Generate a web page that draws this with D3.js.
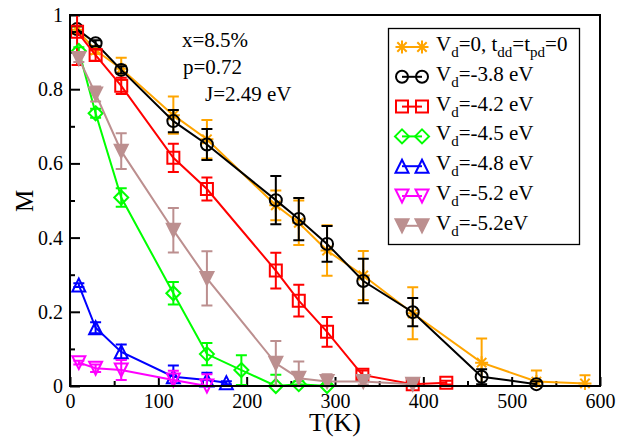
<!DOCTYPE html>
<html>
<head>
<meta charset="utf-8">
<script src="https://cdn.jsdelivr.net/npm/d3@7"></script>
<style>
  body { margin: 0; background: #fff; }
  svg, svg text { font-family: 'Liberation Serif', 'Times New Roman', Times, serif !important; }
</style>
</head>
<body>
<div id="chart"></div>
<script>
// T(K), M and error bar half-widths
var tOrange = [8, 29, 58, 117, 155, 233, 259, 291, 332, 388, 466, 528, 583]
var mOrange = [0.96, 0.905, 0.855, 0.73, 0.665, 0.487, 0.44, 0.365, 0.298, 0.196, 0.063, 0.012, 0.007]
var eOrange = [0.01, 0.01, 0.03, 0.05, 0.052, 0.04, 0.06, 0.068, 0.066, 0.07, 0.065, 0.03, 0.022]

var tBlack = [8, 29, 58, 117, 155, 233, 259, 291, 332, 388, 466, 528]
var mBlack = [0.962, 0.924, 0.852, 0.714, 0.651, 0.501, 0.45, 0.383, 0.283, 0.199, 0.025, 0.005]
var eBlack = [0.008, 0.008, 0.01, 0.03, 0.042, 0.065, 0.057, 0.048, 0.06, 0.038, 0.02, 0.008]

var tRed = [8, 29, 58, 117, 155, 233, 259, 291, 331, 388, 426]
var mRed = [0.955, 0.892, 0.809, 0.615, 0.531, 0.311, 0.23, 0.146, 0.03, 0.005, 0.009]
var eRed = [0.09, 0.015, 0.022, 0.038, 0.031, 0.048, 0.043, 0.04, 0.012, 0.005, 0.005]

var tGreen = [10, 29, 58, 117, 155, 194, 233, 259, 291]
var mGreen = [0.903, 0.735, 0.508, 0.25, 0.086, 0.043, 0, 0.005, 0]
var eGreen = [0.01, 0.012, 0.025, 0.03, 0.03, 0.04, 0.03, 0.008, 0.005]

var tBlue = [10, 29, 58, 117, 155, 177]
var mBlue = [0.272, 0.157, 0.092, 0.025, 0.016, 0.009]
var eBlue = [0.005, 0.015, 0.02, 0.03, 0.02, 0.004]

var tMagenta = [10, 29, 58, 117, 155]
var mMagenta = [0.063, 0.048, 0.043, 0.016, 0]
var eMagenta = [0.005, 0.01, 0.027, 0.025, 0.032]

var tBrown = [10, 29, 58, 117, 155, 233, 259, 291, 332, 388]
var mBrown = [0.883, 0.787, 0.633, 0.42, 0.29, 0.061, 0.021, 0.012, 0.012, 0.005]
var eBrown = [0.01, 0.02, 0.048, 0.06, 0.073, 0.06, 0.045, 0.02, 0.008, 0.005]

var xTicks = [0, 100, 200, 300, 400, 500, 600]
var xMinor = [50, 150, 250, 350, 450, 550]
var yTicks = [0, 0.2, 0.4, 0.6, 0.8, 1]
var yMinor = [0.1, 0.3, 0.5, 0.7, 0.9]
var notes = ['x=8.5%', 'p=0.72', 'J=2.49 eV']

var FONT = "'Liberation Serif', 'Times New Roman', Times, serif"

function zip (t, m, e) {
  return t.map(function (d, i) { return { t: d, m: m[i], e: e[i] } })
}

// legend text as [text, isSubscript] pieces
var series = [
  { color: '#ffa500', marker: 'star', data: zip(tOrange, mOrange, eOrange),
    label: [['V', 0], ['d', 1], ['=0, t', 0], ['dd', 1], ['=t', 0], ['pd', 1], ['=0', 0]] },
  { color: '#000000', marker: 'circle', data: zip(tBlack, mBlack, eBlack),
    label: [['V', 0], ['d', 1], ['=-3.8 eV', 0]] },
  { color: '#ff0000', marker: 'square', data: zip(tRed, mRed, eRed),
    label: [['V', 0], ['d', 1], ['=-4.2 eV', 0]] },
  { color: '#00ff00', marker: 'diamond', data: zip(tGreen, mGreen, eGreen),
    label: [['V', 0], ['d', 1], ['=-4.5 eV', 0]] },
  { color: '#0000ff', marker: 'triUp', data: zip(tBlue, mBlue, eBlue),
    label: [['V', 0], ['d', 1], ['=-4.8 eV', 0]] },
  { color: '#ff00ff', marker: 'triDown', data: zip(tMagenta, mMagenta, eMagenta),
    label: [['V', 0], ['d', 1], ['=-5.2 eV', 0]] },
  { color: '#bc8f8f', marker: 'triDown', fill: true, data: zip(tBrown, mBrown, eBrown),
    label: [['V', 0], ['d', 1], ['=-5.2eV', 0]] }
]

var width = 628, height = 439
var margin = { top: 15, right: 28, bottom: 53, left: 70 }

var svg = d3.select('#chart').append('svg')
  .attr('width', width)
  .attr('height', height)
  .attr('font-family', FONT)

var x = d3.scaleLinear().domain([0, 600]).range([margin.left, width - margin.right])
var y = d3.scaleLinear().domain([0, 1]).range([height - margin.bottom, margin.top])

svg.append('clipPath').attr('id', 'plot-clip')
  .append('rect')
  .attr('x', x(0)).attr('y', y(1))
  .attr('width', x(600) - x(0)).attr('height', y(0) - y(1))

function markerPath (type, s) {
  var k = 0.72 * s
  switch (type) {
    case 'square': return 'M' + -s + ',' + -s + 'H' + s + 'V' + s + 'H' + -s + 'Z'
    case 'diamond': return 'M0,' + -s + 'L' + s + ',0L0,' + s + 'L' + -s + ',0Z'
    case 'triUp': return 'M0,' + -s + 'L' + s + ',' + s + 'H' + -s + 'Z'
    case 'triDown': return 'M0,' + s + 'L' + s + ',' + -s + 'H' + -s + 'Z'
    case 'star': return 'M' + -s + ',0H' + s + 'M0,' + -s + 'V' + s +
      'M' + -k + ',' + -k + 'L' + k + ',' + k + 'M' + -k + ',' + k + 'L' + k + ',' + -k
    default: return d3.symbol(d3.symbolCircle, Math.PI * s * s)()
  }
}
var markerSize = { circle: 6, square: 6, diamond: 7, triUp: 6.5, triDown: 6.5, star: 6.5 }

function drawMarker (g, s, cx, cy) {
  g.append('path')
    .attr('d', markerPath(s.marker, markerSize[s.marker]))
    .attr('transform', 'translate(' + cx + ',' + cy + ')')
    .attr('fill', s.fill ? s.color : 'none')
    .attr('stroke', s.color)
    .attr('stroke-width', 2)
}

// axes: inward ticks on bottom and left only
var gx = svg.append('g')
  .attr('transform', 'translate(0,' + y(0) + ')')
  .call(d3.axisBottom(x).tickValues(xTicks).tickSizeInner(-9).tickSizeOuter(0).tickPadding(8))
gx.append('g').call(d3.axisBottom(x).tickValues(xMinor).tickSizeInner(-5).tickSizeOuter(0).tickFormat(''))

var gy = svg.append('g')
  .attr('transform', 'translate(' + x(0) + ',0)')
  .call(d3.axisLeft(y).tickValues(yTicks).tickSizeInner(-10).tickSizeOuter(0).tickPadding(7)
    .tickFormat(function (d) { return String(+d.toFixed(1)) }))
gy.append('g').call(d3.axisLeft(y).tickValues(yMinor).tickSizeInner(-5).tickSizeOuter(0).tickFormat(''))

svg.selectAll('.domain').remove()
gx.attr('font-family', FONT).attr('font-size', 20)
gy.attr('font-family', FONT).attr('font-size', 20)
svg.selectAll('.tick line').attr('stroke', '#000').attr('stroke-width', 2)
svg.selectAll('.tick text').attr('fill', '#000')

// data
series.forEach(function (s) {
  var g = svg.append('g').classed('series', true)
  var line = d3.line()
    .x(function (d) { return x(d.t) })
    .y(function (d) { return y(d.m) })

  g.append('path')
    .datum(s.data)
    .attr('d', line)
    .attr('fill', 'none')
    .attr('stroke', s.color)
    .attr('stroke-width', 2)

  var bars = g.append('g').attr('clip-path', 'url(#plot-clip)')
  s.data.forEach(function (d) {
    var cx = x(d.t), y1 = y(d.m + d.e), y2 = y(d.m - d.e)
    bars.append('path')
      .attr('d', 'M' + cx + ',' + y1 + 'V' + y2 +
        'M' + (cx - 5.5) + ',' + y1 + 'H' + (cx + 5.5) +
        'M' + (cx - 5.5) + ',' + y2 + 'H' + (cx + 5.5))
      .attr('fill', 'none')
      .attr('stroke', s.color)
      .attr('stroke-width', 2)
  })

  s.data.forEach(function (d) { drawMarker(g, s, x(d.t), y(d.m)) })
})

// frame
svg.append('rect')
  .attr('x', x(0)).attr('y', y(1))
  .attr('width', x(600) - x(0)).attr('height', y(0) - y(1))
  .attr('fill', 'none').attr('stroke', '#000').attr('stroke-width', 2)

// axis labels
svg.append('text')
  .attr('x', 335).attr('y', 431)
  .attr('text-anchor', 'middle')
  .attr('font-size', 26)
  .text('T(K)')

svg.append('text')
  .attr('transform', 'translate(33,201) rotate(-90)')
  .attr('text-anchor', 'middle')
  .attr('font-size', 25)
  .text('M')

// parameters
svg.selectAll('.note').data(notes).enter()
  .append('text')
  .attr('class', 'note')
  .attr('x', function (d, i) { return [182, 183, 205][i] })
  .attr('y', function (d, i) { return 47 + i * 27 })
  .attr('font-size', 21)
  .text(function (d) { return d })

// legend
var legend = svg.append('g').attr('class', 'legend-group')
legend.append('rect')
  .attr('x', 388.5).attr('y', 28.5).attr('width', 191).attr('height', 216)
  .attr('fill', '#fff').attr('stroke', '#000').attr('stroke-width', 1.3)

series.forEach(function (s, i) {
  var base = 51 + i * 29.8
  var cy = base - 4
  var g = legend.append('g')
  g.append('line')
    .attr('x1', 402).attr('x2', 422).attr('y1', cy).attr('y2', cy)
    .attr('stroke', s.color).attr('stroke-width', 2)
  drawMarker(g, s, 402, cy)
  drawMarker(g, s, 422, cy)

  var t = g.append('text').attr('x', 436).attr('y', base).attr('font-size', 21)
  s.label.forEach(function (p, j) {
    var span = t.append('tspan').text(p[0])
    if (p[1]) {
      span.attr('dy', 6).attr('font-size', 15)
    } else if (j > 0) {
      span.attr('dy', -6)
    }
  })
})
</script>
</body>
</html>
